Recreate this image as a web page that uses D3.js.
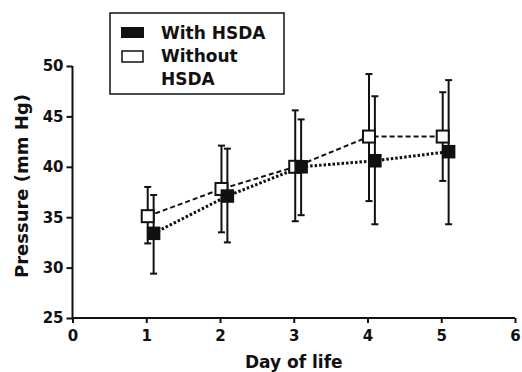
<!DOCTYPE html>
<html>
<head>
<meta charset="utf-8">
<script src="https://cdn.jsdelivr.net/npm/d3@7"></script>
<style>
body { margin: 0; background: #fff; }
text { font-family: "DejaVu Sans", sans-serif; font-weight: bold; fill: #111; }
</style>
</head>
<body>
<div id="chart"></div>
<script>
var days = [1, 2, 3, 4, 5];
// with HSDA (filled squares)
var withMean = [33.4, 37.1, 40.0, 40.6, 41.5],
    withHi = [37.2, 41.8, 44.7, 47.0, 48.6],
    withLo = [29.4, 32.5, 35.2, 34.3, 34.3];
// without HSDA (open squares)
var withoutMean = [35.1, 37.8, 40.0, 43.0, 43.0],
    withoutHi = [38.0, 42.1, 45.6, 49.2, 47.4],
    withoutLo = [32.4, 33.5, 34.6, 36.6, 38.6];
var xTicks = [0, 1, 2, 3, 4, 5, 6],
    yTicks = [25, 30, 35, 40, 45, 50];

var width = 522, height = 372;

var svg = d3.select("#chart").append("svg")
  .attr("width", width)
  .attr("height", height);

var x = d3.scaleLinear().domain([0, 6]).range([72.5, 515]);
var y = d3.scaleLinear().domain([25, 50]).range([318, 66]);

function series(mean, hi, lo, off) {
  return days.map(function(d, i) {
    return {x: d + off, m: mean[i], hi: hi[i], lo: lo[i]};
  });
}
var sWith = series(withMean, withHi, withLo, 0.1),
    sWithout = series(withoutMean, withoutHi, withoutLo, 0.02);

// axes
var xAxis = svg.append("g")
  .attr("transform", "translate(0," + y(25) + ")")
  .call(d3.axisBottom(x).tickValues(xTicks).tickSize(5).tickPadding(7).tickFormat(d3.format("d")));
var yAxis = svg.append("g")
  .attr("transform", "translate(" + x(0) + ",0)")
  .call(d3.axisLeft(y).tickValues(yTicks).tickSize(6).tickPadding(3).tickFormat(d3.format("d")));

[xAxis, yAxis].forEach(function(a) {
  a.select(".domain").attr("stroke", "#111").attr("stroke-width", 2);
  a.selectAll(".tick line").attr("stroke", "#111").attr("stroke-width", 2);
  a.selectAll(".tick text").style("font-size", "15px").attr("fill", "#111");
});
// flat ends on the domain paths
xAxis.select(".domain").attr("d", "M" + x(0) + ",0H" + x(6));
yAxis.select(".domain").attr("d", "M0," + y(50) + "V" + y(25));

svg.append("text")
  .attr("x", x(3))
  .attr("y", 368)
  .attr("text-anchor", "middle")
  .style("font-size", "17px")
  .text("Day of life");

svg.append("text")
  .attr("transform", "translate(28," + (y(37.5) - 6) + ") rotate(-90)")
  .attr("text-anchor", "middle")
  .style("font-size", "18px")
  .text("Pressure (mm Hg)");

var line = d3.line()
  .x(function(d) { return x(d.x); })
  .y(function(d) { return y(d.m); });

function drawErrors(data) {
  var g = svg.append("g").attr("stroke", "#111").attr("stroke-width", 2);
  g.selectAll(".bar").data(data).enter().append("line")
    .attr("x1", function(d) { return x(d.x); })
    .attr("x2", function(d) { return x(d.x); })
    .attr("y1", function(d) { return y(d.hi); })
    .attr("y2", function(d) { return y(d.lo); });
  ["hi", "lo"].forEach(function(k) {
    g.selectAll(".cap" + k).data(data).enter().append("line")
      .attr("x1", function(d) { return x(d.x) - 3.5; })
      .attr("x2", function(d) { return x(d.x) + 3.5; })
      .attr("y1", function(d) { return y(d[k]); })
      .attr("y2", function(d) { return y(d[k]); });
  });
}

drawErrors(sWithout);
drawErrors(sWith);

svg.append("path")
  .datum(sWithout)
  .attr("d", line)
  .attr("fill", "none")
  .attr("stroke", "#111")
  .attr("stroke-width", 2)
  .attr("stroke-dasharray", "5,3");

svg.append("path")
  .datum(sWith)
  .attr("d", line)
  .attr("fill", "none")
  .attr("stroke", "#111")
  .attr("stroke-width", 3)
  .attr("stroke-dasharray", "2.5,2");

var sq = 12;
svg.selectAll(".open").data(sWithout).enter().append("rect")
  .attr("x", function(d) { return x(d.x) - sq / 2; })
  .attr("y", function(d) { return y(d.m) - sq / 2; })
  .attr("width", sq).attr("height", sq)
  .attr("fill", "#fff").attr("stroke", "#111").attr("stroke-width", 2);

svg.selectAll(".filled").data(sWith).enter().append("rect")
  .attr("x", function(d) { return x(d.x) - sq / 2; })
  .attr("y", function(d) { return y(d.m) - sq / 2; })
  .attr("width", sq).attr("height", sq)
  .attr("fill", "#111").attr("stroke", "#111").attr("stroke-width", 1.5);

// legend
var leg = svg.append("g");
leg.append("rect")
  .attr("x", 110).attr("y", 13).attr("width", 174).attr("height", 81)
  .attr("fill", "#fff").attr("stroke", "#111").attr("stroke-width", 1.5);
leg.append("rect")
  .attr("x", 121).attr("y", 27).attr("width", 23).attr("height", 11)
  .attr("fill", "#111");
leg.append("rect")
  .attr("x", 122).attr("y", 51).attr("width", 21).attr("height", 11)
  .attr("fill", "#fff").attr("stroke", "#111").attr("stroke-width", 1.5);
leg.append("text").attr("x", 161).attr("y", 39).style("font-size", "17px").text("With HSDA");
leg.append("text").attr("x", 161).attr("y", 62).style("font-size", "17px").text("Without");
leg.append("text").attr("x", 161).attr("y", 85).style("font-size", "17px").text("HSDA");
</script>
</body>
</html>
